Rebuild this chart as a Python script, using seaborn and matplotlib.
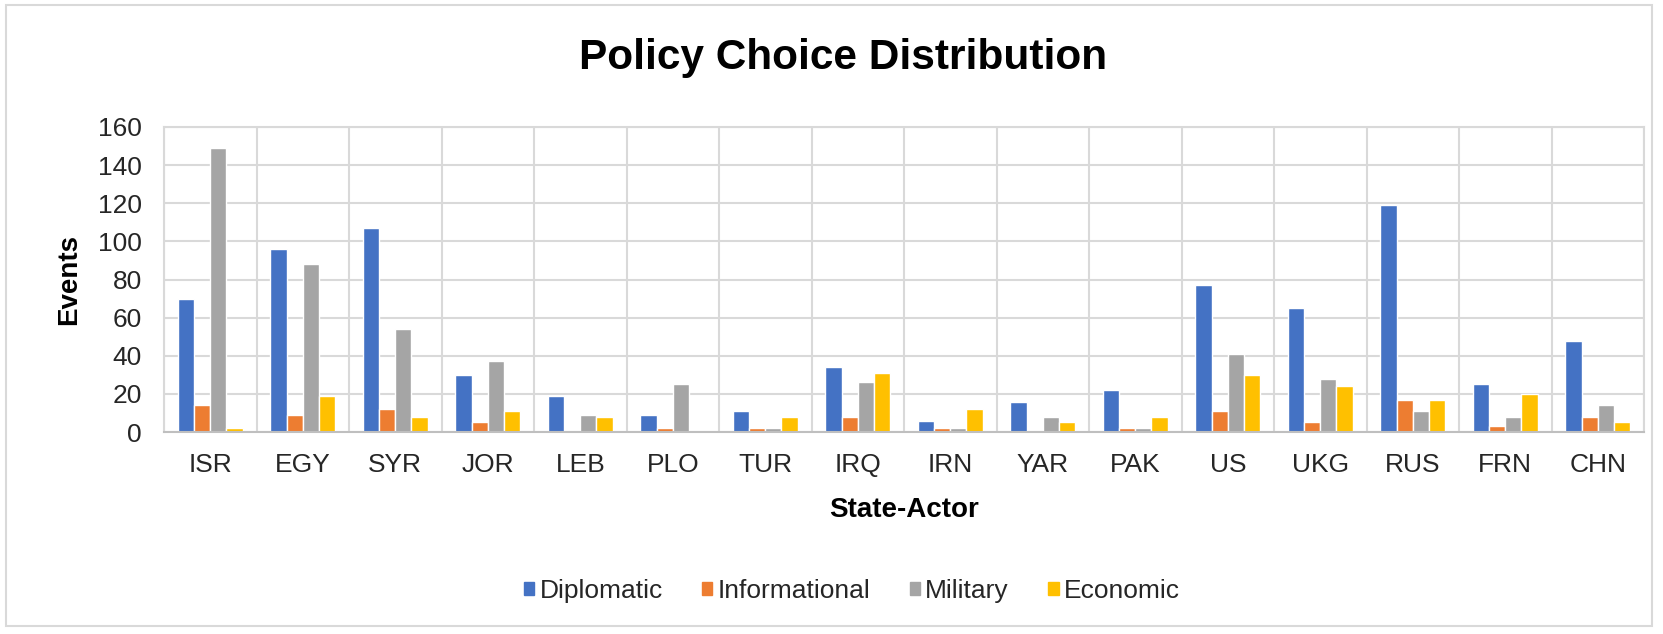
import matplotlib
matplotlib.use("Agg")
import matplotlib.pyplot as plt
import matplotlib.patches as mpatches
from matplotlib.ticker import MultipleLocator, FixedLocator
import seaborn as sns
import pandas as pd

actors = ["ISR", "EGY", "SYR", "JOR", "LEB", "PLO", "TUR", "IRQ",
          "IRN", "YAR", "PAK", "US", "UKG", "RUS", "FRN", "CHN"]
diplomatic = [70, 96, 107, 30, 19, 9, 11, 34, 6, 16, 22, 77, 65, 119, 25, 48]
informational = [14, 9, 12, 5, 0, 2, 2, 8, 2, 0, 2, 11, 5, 17, 3, 8]
military = [149, 88, 54, 37, 9, 25, 2, 26, 2, 8, 2, 41, 28, 11, 8, 14]
economic = [2, 19, 8, 11, 8, 0, 8, 31, 12, 5, 8, 30, 24, 17, 20, 5]

series_names = ["Diplomatic", "Informational", "Military", "Economic"]
series_colors = ["#4472C4", "#ED7D31", "#A5A5A5", "#FFC000"]

df = pd.DataFrame({
    "State-Actor": actors * 4,
    "Type": sum([[n] * len(actors) for n in series_names], []),
    "Events": diplomatic + informational + military + economic,
})

sns.set_theme(style="white")
plt.rcParams["font.family"] = ["Liberation Sans", "DejaVu Sans"]

W, H = 1663, 634
fig = plt.figure(figsize=(W / 100, H / 100), dpi=100)
ax = fig.add_axes([164 / W, 1 - 432 / H, (1644 - 164) / W, (432 - 127) / H])

sns.barplot(data=df, x="State-Actor", y="Events", hue="Type",
            hue_order=series_names, palette=series_colors, width=0.7,
            saturation=1, ax=ax, legend=False)

grid_c = "#D9D9D9"
ax.set_ylim(0, 160)
ax.set_xlim(-0.5, len(actors) - 0.5)
ax.yaxis.set_major_locator(MultipleLocator(20))
ax.xaxis.set_minor_locator(FixedLocator([i + 0.5 for i in range(-1, len(actors))]))
ax.grid(axis="y", which="major", color=grid_c, linewidth=1.5)
ax.grid(axis="x", which="minor", color=grid_c, linewidth=1.5)
ax.grid(axis="x", which="major", visible=False)
ax.set_axisbelow(True)
for s in ax.spines.values():
    s.set_color(grid_c)
    s.set_linewidth(1.5)
ax.spines["bottom"].set_color("#BFBFBF")

ax.tick_params(axis="both", which="both", length=0, labelsize=19, colors="#262626")
ax.tick_params(axis="x", pad=15)
ax.tick_params(axis="y", pad=16)

ax.set_xlabel("State-Actor", fontsize=20, fontweight="bold", color="black", va="center")
ax.set_ylabel("Events", fontsize=20, fontweight="bold", color="black", va="center")
ax.xaxis.set_label_coords(0.5, -(510 - 432) / (432 - 127))
ax.yaxis.set_label_coords((69 - 164) / (1644 - 164), 0.5)

fig.text(843 / W, 1 - 58 / H, "Policy Choice Distribution", ha="center", va="center",
         fontsize=30.5, fontweight="bold", color="black")

handles = [mpatches.Patch(color=c, label=n) for n, c in zip(series_names, series_colors)]
fig.legend(handles=handles, loc="center", bbox_to_anchor=(852 / W, 1 - 591 / H),
           ncol=4, frameon=False, fontsize=19, handlelength=0.38, handleheight=0.38,
           handletextpad=0.2, columnspacing=1.5, labelcolor="#262626")

fig.patches.append(mpatches.Rectangle((6 / W, 1 - 626 / H), (1652 - 6) / W, (626 - 5) / H,
                                      transform=fig.transFigure, fill=False,
                                      edgecolor="#D9D9D9", linewidth=1.5))

fig.savefig("out.png", dpi=100, facecolor="white")
